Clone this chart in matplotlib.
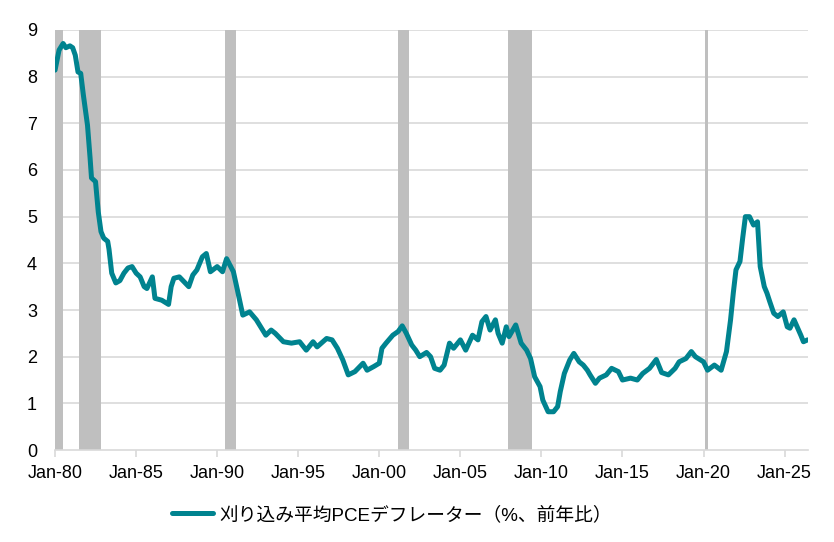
"""
刈り込み平均PCEデフレーター（前年比）と景気後退期の再現
"""
import numpy as np
import pandas as pd
import matplotlib
matplotlib.use("Agg")
import matplotlib.pyplot as plt
import matplotlib.dates as mdates

plt.rcParams['font.family'] = ['Liberation Sans', 'Noto Sans CJK JP', 'DejaVu Sans']

# 読み取り値（年月, %）
dates = [
    "1980-01", "1980-04", "1980-07", "1980-09", "1980-12", "1981-02", "1981-04", "1981-06",
    "1981-08", "1981-10", "1982-01", "1982-03", "1982-04", "1982-07", "1982-09", "1982-11",
    "1983-01", "1983-04", "1983-05", "1983-07", "1983-10", "1984-01", "1984-04", "1984-07",
    "1984-10", "1985-01", "1985-04", "1985-07", "1985-09", "1986-01", "1986-03", "1986-08",
    "1987-01", "1987-03", "1987-05", "1987-09", "1988-04", "1988-07", "1988-10", "1989-02",
    "1989-05", "1989-08", "1990-01", "1990-05", "1990-08", "1991-01", "1991-04", "1991-08",
    "1992-01", "1992-06", "1993-01", "1993-05", "1993-08", "1994-02", "1994-08", "1995-02",
    "1995-07", "1995-12", "1996-03", "1996-10", "1997-02", "1997-06", "1997-10", "1998-02",
    "1998-07", "1999-01", "1999-04", "1999-09", "2000-01", "2000-03", "2000-06", "2000-11",
    "2001-03", "2001-06", "2001-09", "2002-01", "2002-04", "2002-07", "2002-12", "2003-03",
    "2003-06", "2003-10", "2004-01", "2004-05", "2004-08", "2005-01", "2005-05", "2005-10",
    "2006-02", "2006-05", "2006-08", "2006-11", "2007-03", "2007-05", "2007-08", "2007-11",
    "2008-01", "2008-06", "2008-10", "2009-02", "2009-05", "2009-08", "2009-12", "2010-02",
    "2010-06", "2010-10", "2011-01", "2011-03", "2011-06", "2011-10", "2012-01", "2012-05",
    "2012-08", "2012-11", "2013-01", "2013-05", "2013-08", "2014-01", "2014-05", "2014-10",
    "2015-01", "2015-07", "2015-12", "2016-04", "2016-09", "2017-02", "2017-06", "2017-11",
    "2018-04", "2018-07", "2018-12", "2019-04", "2019-07", "2020-01", "2020-04", "2020-09",
    "2021-02", "2021-06", "2021-09", "2021-11", "2022-01", "2022-04", "2022-06", "2022-08",
    "2022-11", "2023-02", "2023-05", "2023-07", "2023-10", "2023-12", "2024-02", "2024-05",
    "2024-08", "2024-12", "2025-03", "2025-05", "2025-08", "2026-01", "2026-03", "2026-06",
]
trimmed_pce = [
    8.14, 8.57, 8.71, 8.62, 8.66, 8.62, 8.46, 8.10,
    8.07, 7.60, 6.96, 6.25, 5.83, 5.75, 5.10, 4.68,
    4.54, 4.47, 4.30, 3.79, 3.58, 3.63, 3.79, 3.90,
    3.93, 3.79, 3.71, 3.50, 3.46, 3.71, 3.25, 3.21,
    3.12, 3.50, 3.68, 3.71, 3.50, 3.75, 3.86, 4.14,
    4.21, 3.82, 3.93, 3.82, 4.10, 3.82, 3.43, 2.89,
    2.96, 2.79, 2.46, 2.57, 2.50, 2.32, 2.29, 2.32,
    2.14, 2.32, 2.21, 2.39, 2.36, 2.18, 1.93, 1.61,
    1.68, 1.86, 1.71, 1.79, 1.86, 2.18, 2.29, 2.46,
    2.54, 2.66, 2.50, 2.25, 2.14, 2.00, 2.09, 2.00,
    1.75, 1.71, 1.82, 2.29, 2.18, 2.36, 2.14, 2.46,
    2.36, 2.75, 2.86, 2.57, 2.79, 2.50, 2.29, 2.64,
    2.43, 2.68, 2.29, 2.14, 1.96, 1.57, 1.36, 1.07,
    0.82, 0.82, 0.93, 1.25, 1.64, 1.93, 2.07, 1.89,
    1.82, 1.71, 1.61, 1.43, 1.54, 1.61, 1.75, 1.68,
    1.50, 1.54, 1.50, 1.64, 1.75, 1.94, 1.66, 1.61,
    1.75, 1.89, 1.96, 2.11, 2.00, 1.89, 1.71, 1.82,
    1.71, 2.11, 2.79, 3.36, 3.86, 4.04, 4.54, 5.00,
    5.00, 4.82, 4.89, 3.93, 3.50, 3.36, 3.18, 2.93,
    2.86, 2.96, 2.64, 2.61, 2.79, 2.46, 2.32, 2.36,
]

# 景気後退期（NBER）
recession_start = ["1980-01", "1981-07", "1990-07", "2001-03", "2007-12", "2020-02"]
recession_end = ["1980-07", "1982-11", "1991-03", "2001-11", "2009-06", "2020-04"]

yticks = list(range(0, 10))
label = "刈り込み平均PCEデフレーター（%、前年比）"

x = pd.to_datetime(dates)

fig = plt.figure(figsize=(8.34, 5.42), dpi=100)
ax = fig.add_axes([0.066, 0.1697, 0.903, 0.775])

for s, e in zip(recession_start, recession_end):
    ax.axvspan(pd.Timestamp(s), pd.Timestamp(e), color="#BFBFBF", lw=0, zorder=1)

for v in yticks[1:]:
    ax.axhline(v, color="#D9D9D9", lw=1.2, zorder=0.5)

line, = ax.plot(x, trimmed_pce, color="#00838F", lw=3.6, zorder=3,
                solid_joinstyle="round", solid_capstyle="round", label=label)

ax.set_ylim(0, 9)
ax.set_yticks(yticks)
ax.set_xlim(pd.Timestamp("1980-01-01"), pd.Timestamp("2026-06-15"))
ax.xaxis.set_major_locator(mdates.YearLocator(5, month=1, day=1))
ax.xaxis.set_major_formatter(mdates.DateFormatter("%b-%y"))

for sp in ["top", "right", "left"]:
    ax.spines[sp].set_visible(False)
ax.spines["bottom"].set_color("#D9D9D9")
ax.spines["bottom"].set_linewidth(1.2)
ax.spines["bottom"].set_zorder(4)

ax.tick_params(axis="y", length=0, pad=13, labelsize=13, labelcolor="black")
ax.tick_params(axis="x", length=5, width=1.2, color="#D9D9D9", pad=6,
               labelsize=13, labelcolor="black")

fig.legend(handles=[line], loc="center", bbox_to_anchor=(0.47, 0.05),
           frameon=False, fontsize=13.5, handlelength=2.2, handletextpad=0.3)

fig.savefig("out.png", dpi=100)
plt.close(fig)
